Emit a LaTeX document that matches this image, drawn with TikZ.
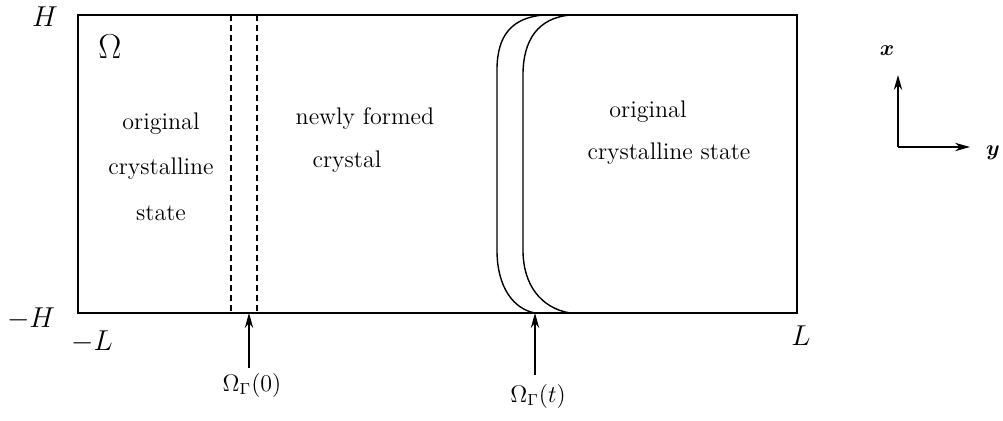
\documentclass[tikz,border=0pt]{standalone}
\usetikzlibrary{arrows.meta}
\begin{document}
\begin{tikzpicture}[x=0.5pt,y=-0.5pt,
  line width=0.7pt,
  lbl/.style={inner sep=0pt,font=\fontsize{12}{14}\selectfont},
  big/.style={inner sep=0pt,font=\fontsize{14}{16}\selectfont},
  arr/.style={-{Stealth[length=7.5pt,width=4.2pt]}},
  dsh/.style={dash pattern=on 3pt off 2pt}]
\useasboundingbox (0,0) rectangle (1003,420);
% domain
\draw (78,15) rectangle (797,313);
% initial interface (dashed)
\draw[dsh] (231,15) -- (231,313);
\draw[dsh] (257,15) -- (257,313);
% moving interface
\draw (543,15) .. controls (512,18) and (497,35) .. (497,70) -- (497,250)
      .. controls (497,288) and (514,309) .. (535,313);
\draw (570,15) .. controls (538,18) and (523,40) .. (523,75) -- (523,250)
      .. controls (523,285) and (541,308) .. (570,313);
% labels
\node[inner sep=0pt,font=\fontsize{18}{20}\selectfont] (om) at (110,47) {$\Omega$};
\node[lbl] (o1) at (161,124) {original};
\node[lbl] (o2) at (161,169) {crystalline};
\node[lbl] (o3) at (161,213) {state};
\node[lbl,anchor=west] (n1) at (295,118) {newly formed};
\node[lbl] (n2) at (347,162) {crystal};
\node[lbl] (r1) at (648,112) {original};
\node[lbl] (r2) at (669,154) {crystalline state};
\node[big] (H) at (45,17) {$H$};
\node[big] (mH) at (31,319) {$-H$};
\node[big] (mL) at (92,342) {$-L$};
\node[big] (L) at (801,336) {$L$};
% arrows to interfaces
\coordinate (s0) at (249,368);
\coordinate (e0) at (249,313);
\draw[arr] (s0) -- (e0);
\node[inner sep=0pt,font=\fontsize{12}{14}\selectfont] (g0) at (252,385) {$\Omega_\Gamma(0)$};
\coordinate (st) at (535,375);
\coordinate (et) at (535,313);
\draw[arr] (st) -- (et);
\node[inner sep=0pt,font=\fontsize{12}{14}\selectfont] (gt) at (538,396) {$\Omega_\Gamma(t)$};
% axes
\coordinate (org) at (898,147);
\coordinate (xt) at (898,75);
\coordinate (yt) at (970,147);
\draw[arr] (org) -- (xt);
\draw[arr] (org) -- (yt);
\node[inner sep=0pt,font=\fontsize{11}{12}\selectfont\boldmath] (xl) at (887,51) {$x$};
\node[inner sep=0pt,font=\fontsize{11}{12}\selectfont\boldmath] (yl) at (993,153) {$y$};
\end{tikzpicture}
\end{document}
